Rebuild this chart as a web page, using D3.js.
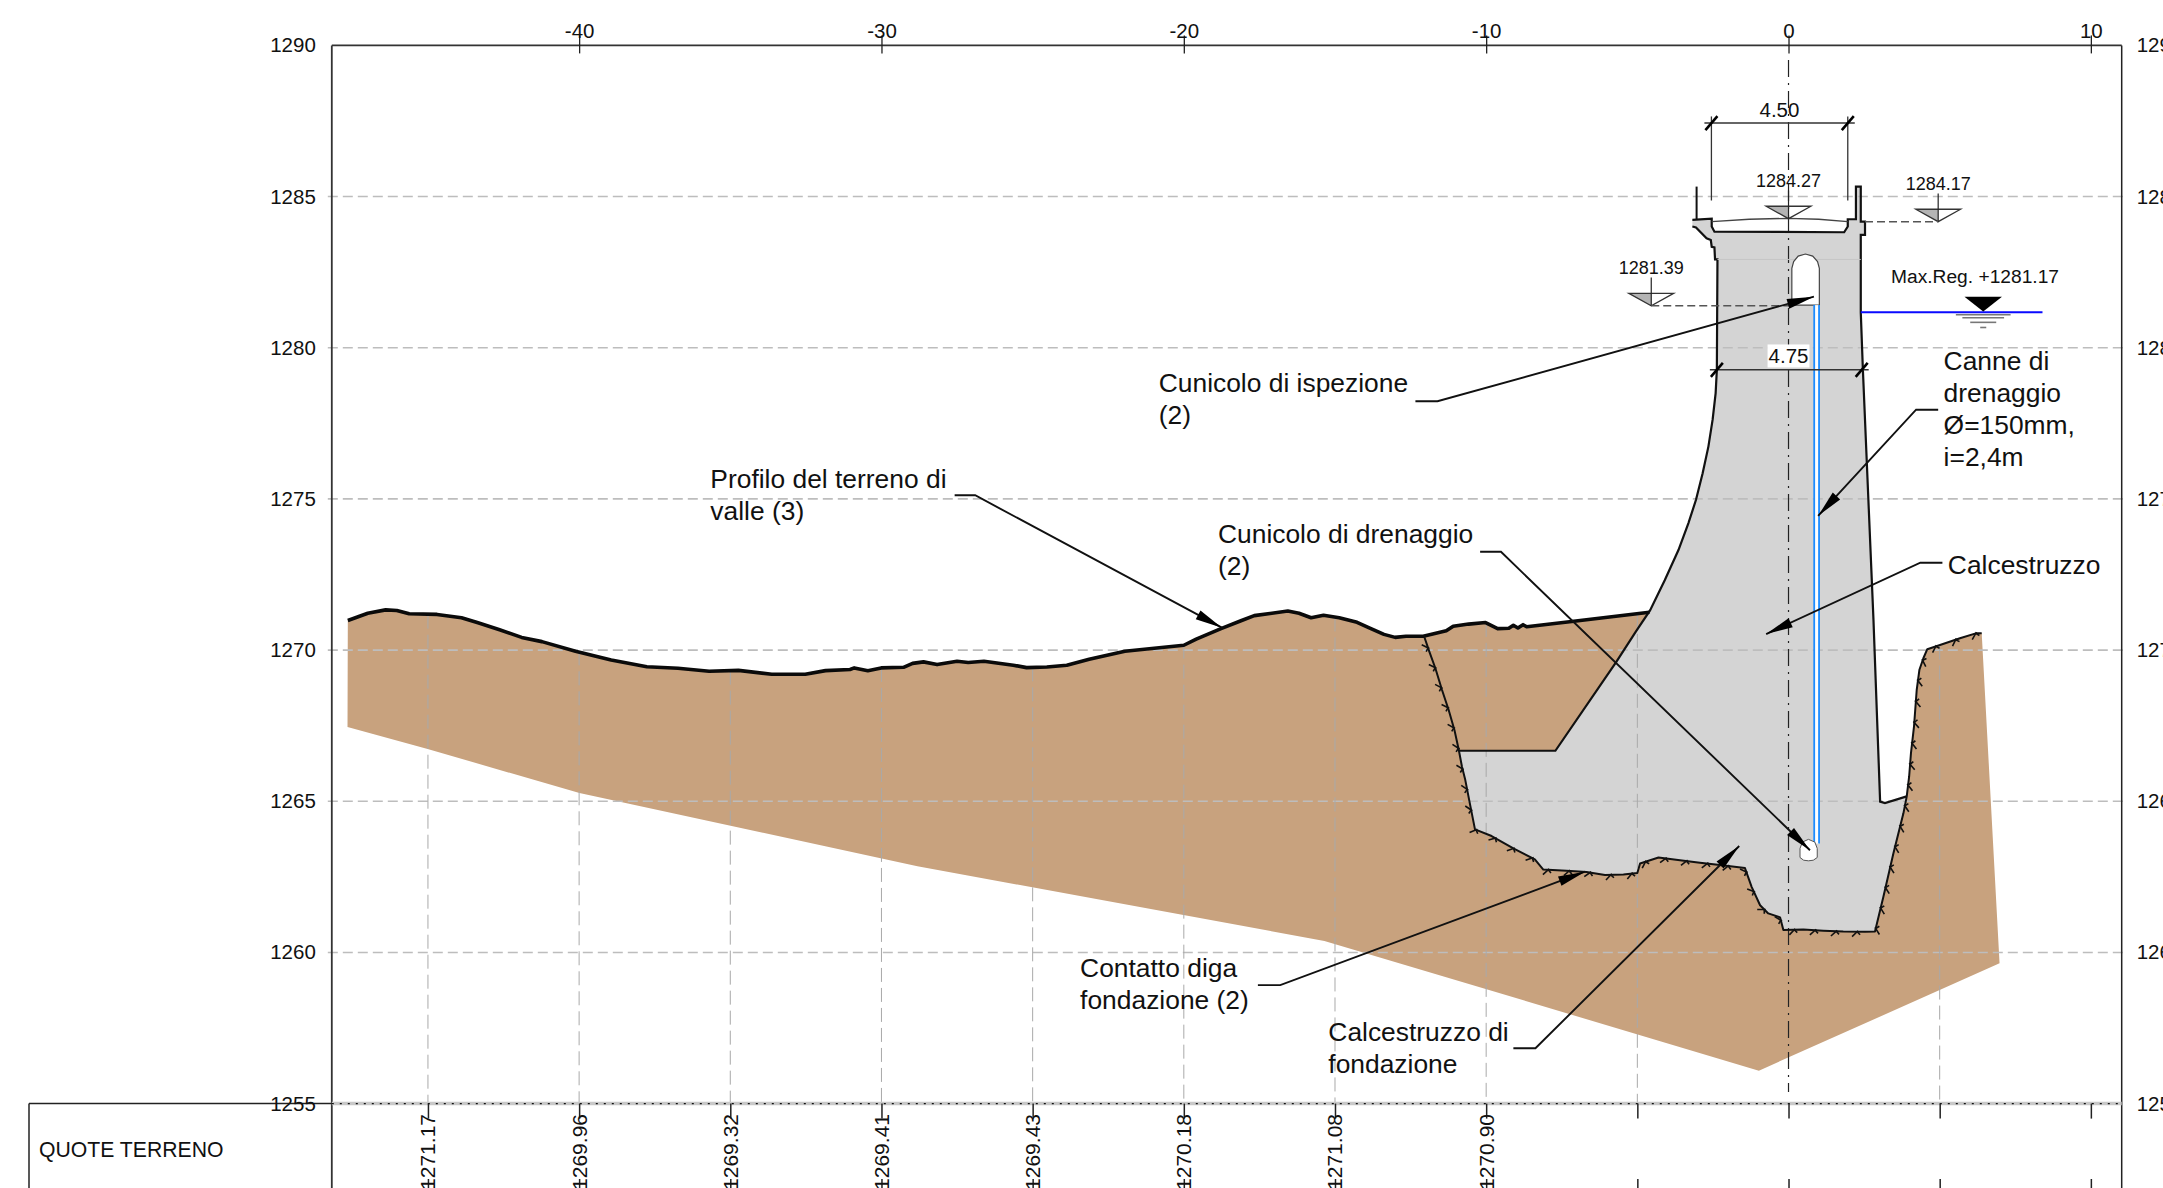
<!DOCTYPE html>
<html>
<head>
<meta charset="utf-8">
<script src="https://cdn.jsdelivr.net/npm/d3@7"></script>
<style>
  html, body { margin: 0; padding: 0; background: #fff; overflow: hidden; }
  text { font-family: "Liberation Sans", Arial, sans-serif; fill: #111; }
</style>
</head>
<body>
<div id="my_dataviz"></div>
<script>
// --------------------------------------------------------
// (1) Data read from the section (progressive m, elevation m)
// --------------------------------------------------------

const xTicks = [-40, -30, -20, -10, 0, 10];
const yTicks = [1290, 1285, 1280, 1275, 1270, 1265, 1260, 1255];
const gridX = [-45, -40, -35, -30, -25, -20, -15, -10, -5, 0, 5, 10];
const quoteX = [-45, -40, -35, -30, -25, -20, -15, -10];
const quoteTerreno = ["1271.17", "1269.96", "1269.32", "1269.41", "1269.43", "1270.18", "1271.08", "1270.90"];

// dashed verticals start from the ground, no label for these two
const extraGridX = [-5, 5];
const extraGridTop = [1271.2, 1270.15];

// ground profile, downstream
const profilo = [[-47.65,1270.98],[-46.99,1271.22],[-46.40,1271.33],[-46.03,1271.31],[-45.62,1271.20],[-44.70,1271.18],
  [-43.89,1271.07],[-43.37,1270.91],[-42.63,1270.67],[-41.90,1270.42],[-41.23,1270.28],[-40.12,1269.96],[-38.94,1269.67],
  [-37.76,1269.45],[-36.73,1269.40],[-35.70,1269.30],[-34.73,1269.33],[-33.63,1269.20],[-32.52,1269.20],[-31.85,1269.32],
  [-31.04,1269.36],[-30.90,1269.41],[-30.45,1269.32],[-30.01,1269.41],[-29.27,1269.43],[-28.97,1269.56],[-28.61,1269.61],
  [-28.16,1269.52],[-27.50,1269.63],[-27.13,1269.59],[-26.61,1269.63],[-25.64,1269.50],[-25.20,1269.42],[-24.53,1269.44],
  [-23.87,1269.50],[-23.13,1269.70],[-21.95,1269.96],[-21.06,1270.05],[-20.00,1270.16],[-19.59,1270.36],[-18.77,1270.71],
  [-18.11,1270.97],[-17.67,1271.14],[-17.15,1271.21],[-16.56,1271.29],[-16.19,1271.22],[-15.79,1271.07],[-15.38,1271.15],
  [-14.86,1271.07],[-14.27,1270.92],[-13.83,1270.72],[-13.38,1270.52],[-13.01,1270.42],[-12.65,1270.46],[-12.08,1270.46],
  [-11.32,1270.64],[-11.09,1270.79],[-10.58,1270.86],[-10.02,1270.91],[-9.62,1270.71],[-9.25,1270.72],[-9.10,1270.82],
  [-8.95,1270.73],[-8.78,1270.84],[-8.66,1270.77],[-7.03,1270.96],[-4.60,1271.25]];

// rock excavation: left wall above the concrete step
const scavoSopra = [[-12.05,1270.45],[-11.88,1269.95],[-11.68,1269.40],[-11.46,1268.68],[-11.24,1268.02],[-11.05,1267.36],[-10.90,1266.67]];

// dam/foundation contact
const contatto = [[-10.90,1266.67],[-10.80,1266.14],[-10.69,1265.70],[-10.54,1264.93],[-10.37,1264.07],[-9.82,1263.85],[-9.10,1263.44],
  [-8.39,1263.08],[-8.11,1262.74],[-7.34,1262.70],[-6.68,1262.66],[-6.07,1262.56],[-5.46,1262.58],[-5.00,1262.63],[-4.91,1262.94],
  [-4.30,1263.14],[-3.59,1263.05],[-2.93,1262.97],[-2.27,1262.89],[-1.44,1262.79],[-1.22,1262.17],[-0.94,1261.56],[-0.67,1261.29],
  [-0.28,1261.16],[-0.17,1260.74],[0.49,1260.76],[1.15,1260.72],[1.81,1260.69],[2.53,1260.68],[2.86,1260.69],[3.14,1261.85],
  [3.47,1263.28],[3.80,1264.60],[3.91,1265.16]];

// right bank, above the dam toe
const spondaDestra = [[3.91,1265.16],[3.99,1265.82],[4.05,1266.59],[4.15,1267.47],[4.24,1268.68],[4.33,1269.35],[4.46,1269.73],[4.59,1270.03],
  [5.01,1270.17],[5.67,1270.39],[6.22,1270.56],[6.39,1270.56]];

// lower edge of the brown ground
const fondoTerreno = [[6.98,1259.64],[-0.98,1256.09],[-15.35,1260.38],[-28.81,1262.85],[-39.99,1265.27],[-45.01,1266.73],[-47.66,1267.46]];

// dam outline, clockwise from the left crown
const corona = [[-3.18,1284.23],[-2.54,1284.27],[-2.54,1284.01],[-2.45,1283.84],[1.84,1283.82],[1.96,1284.01],[1.96,1284.25],[2.23,1284.25],
  [2.23,1285.33],[2.39,1285.33],[2.39,1284.17],[2.53,1284.17],[2.53,1283.73],[2.39,1283.73],[2.39,1281.17],[2.46,1279.27],[2.81,1271.0],
  [3.03,1264.99],[3.19,1264.94],[3.91,1265.16]];
const paramentoMonte = [[-10.90,1266.67],[-7.71,1266.67],[-5.69,1269.62],[-5.05,1270.61],[-4.58,1271.31],[-4.09,1272.32],[-3.64,1273.31],
  [-3.31,1274.20],[-3.06,1274.97],[-2.84,1275.85],[-2.65,1276.73],[-2.51,1277.62],[-2.41,1278.50],[-2.37,1279.27],[-2.35,1282.92],[-2.43,1282.92],[-2.45,1283.32],[-2.54,1283.34],
  [-2.57,1283.56],[-2.71,1283.62],[-3.06,1283.98],[-3.18,1284.01]];
const impalcato = [[-2.54,1284.17],[-1.3,1284.25],[0,1284.28],[1.0,1284.25],[1.96,1284.17]];
const parapetto = [[-3.04,1285.33],[-3.04,1284.25]];

// galleries
const cunicoloIspezione = [[0.11,1281.41],[0.11,1282.63],[0.17,1282.85],[0.32,1283.03],[0.56,1283.10],[0.80,1283.03],[0.96,1282.85],[1.02,1282.63],[1.02,1281.41]];
const cunicoloDrenaggio = [[0.38,1263.14],[0.38,1263.44],[0.46,1263.65],[0.66,1263.74],[0.87,1263.65],[0.95,1263.44],[0.95,1263.14],[0.82,1263.05],[0.66,1263.03],[0.50,1263.05]];

// drainage pipes
const drenaggioX = [0.85, 1.01];
const drenaggioY = [1281.41, 1263.6];

// water level
const maxReg = 1281.17;
const acquaX = [2.39, 8.40];
const acquaSegno = 6.44;
const acquaLinee = [[1281.09,0.905],[1280.99,0.69],[1280.84,0.43],[1280.67,0.10]];

// elevation markers
const quoteX_marker = [0, 4.95, -4.54];
const quoteTip = [1284.27, 1284.17, 1281.39];
const quoteLab = ["1284.27", "1284.17", "1281.39"];

// leaders: stub start, stub end, arrow tip
const richiami = [
  [[-12.34,1278.23],[-11.61,1278.23],[0.84,1281.69]],
  [[-27.58,1275.12],[-26.90,1275.12],[-18.74,1270.74]],
  [[-10.20,1273.25],[-9.51,1273.25],[0.71,1263.38]],
  [[4.95,1277.95],[4.22,1277.95],[0.98,1274.44]],
  [[5.09,1272.89],[4.36,1272.89],[-0.74,1270.53]],
  [[-17.55,1258.92],[-16.81,1258.92],[-6.73,1262.67]],
  [[-9.10,1256.83],[-8.37,1256.83],[-1.63,1263.52]]
];

const etichette = [
  {x:-20.83, y:1278.52, righe:["Cunicolo di ispezione","(2)"]},
  {x:-35.66, y:1275.37, righe:["Profilo del terreno di","valle (3)"]},
  {x:-18.87, y:1273.53, righe:["Cunicolo di drenaggio","(2)"]},
  {x:5.13, y:1279.25, righe:["Canne di","drenaggio","Ø=150mm,","i=2,4m"]},
  {x:5.27, y:1272.53, righe:["Calcestruzzo"]},
  {x:-23.43, y:1259.20, righe:["Contatto diga","fondazione (2)"]},
  {x:-15.22, y:1257.06, righe:["Calcestruzzo di","fondazione"]}
];

// --------------------------------------------------------
// (2) Scales
// --------------------------------------------------------

var svg_width = 2163
var svg_height = 1188

const x = d3.scaleLinear().domain([-48.18, 11.02]).range([331.8, 2121.7]);
const y = d3.scaleLinear().domain([1255, 1290]).range([1103.6, 45.4]);
const line = d3.line().x(d => x(d[0])).y(d => y(d[1]));

const svg = d3.select("#my_dataviz").append("svg")
    .attr("width", svg_width)
    .attr("height", svg_height)
    .style("display", "block");

// --------------------------------------------------------
// (3) Ground and dam fills
// --------------------------------------------------------

const terreno = profilo.concat([[-2,1264],[2,1262]], contatto.slice(-3), spondaDestra.slice(1), fondoTerreno);
svg.append("path").attr("d", line(terreno) + "Z").attr("fill", "#c8a27e");

const diga = corona.concat(contatto.slice(0, -1).reverse(), paramentoMonte);
svg.append("path").attr("d", line(diga) + "Z").attr("fill", "#d4d4d4");

// --------------------------------------------------------
// (4) Grid
// --------------------------------------------------------

svg.append("g").selectAll("line").data(yTicks.slice(1, -1)).join("line")
    .attr("x1", x.range()[0] - 4).attr("x2", x.range()[1] + 4)
    .attr("y1", d => y(d)).attr("y2", d => y(d))
    .attr("stroke", "#bdbdbd").attr("stroke-width", 1.6).attr("stroke-dasharray", "10,5");

const gridTop = quoteX.map((d, i) => [d, +quoteTerreno[i]]).concat(extraGridX.map((d, i) => [d, extraGridTop[i]]));
svg.append("g").selectAll("line").data(gridTop).join("line")
    .attr("x1", d => x(d[0])).attr("x2", d => x(d[0]))
    .attr("y1", d => y(d[1])).attr("y2", y(1255))
    .attr("stroke", "#a9a9a9").attr("stroke-width", 1).attr("stroke-dasharray", "14,6");

// centre line of the section
svg.append("line")
    .attr("x1", x(0)).attr("x2", x(0)).attr("y1", 60).attr("y2", 1092)
    .attr("stroke", "#222").attr("stroke-width", 1.2).attr("stroke-dasharray", "17,6,2,6");

// --------------------------------------------------------
// (5) Dam, galleries, pipes
// --------------------------------------------------------

svg.append("path").attr("d", line(corona)).attr("fill", "none").attr("stroke", "#111").attr("stroke-width", 2.2);
svg.append("path").attr("d", line(paramentoMonte)).attr("fill", "none").attr("stroke", "#111").attr("stroke-width", 2.2);
svg.append("path").attr("d", line(impalcato)).attr("fill", "none").attr("stroke", "#444").attr("stroke-width", 1.4);
svg.append("path").attr("d", line(parapetto)).attr("fill", "none").attr("stroke", "#111").attr("stroke-width", 2);
svg.append("line")
    .attr("x1", x(-2.35)).attr("x2", x(2.39)).attr("y1", y(1282.92)).attr("y2", y(1282.92))
    .attr("stroke", "#c6c6c6").attr("stroke-width", 1);

svg.append("path").attr("d", line(cunicoloIspezione) + "Z").attr("fill", "#fff").attr("stroke", "#444").attr("stroke-width", 1.2);
svg.append("rect")
    .attr("x", x(drenaggioX[0])).attr("width", x(drenaggioX[1]) - x(drenaggioX[0]))
    .attr("y", y(drenaggioY[0])).attr("height", y(drenaggioY[1]) - y(drenaggioY[0]))
    .attr("fill", "#fff");
svg.append("g").selectAll("line").data(drenaggioX).join("line")
    .attr("x1", d => x(d)).attr("x2", d => x(d))
    .attr("y1", y(drenaggioY[0])).attr("y2", y(drenaggioY[1]))
    .attr("stroke", "#1c8cff").attr("stroke-width", 1.8);
svg.append("path").attr("d", line(cunicoloDrenaggio) + "Z").attr("fill", "#fff").attr("stroke", "#555").attr("stroke-width", 1);

// --------------------------------------------------------
// (6) Ground lines with hachures on the contact
// --------------------------------------------------------

svg.append("path").attr("d", line(profilo)).attr("fill", "none")
    .attr("stroke", "#0a0a0a").attr("stroke-width", 3.6).attr("stroke-linejoin", "round");

const scavo = scavoSopra.concat(contatto.slice(1), spondaDestra.slice(1));
const scavoPath = svg.append("path").attr("d", line(scavo)).attr("fill", "none")
    .attr("stroke", "#111").attr("stroke-width", 2).attr("stroke-linejoin", "round");

const nodo = scavoPath.node();
const lung = nodo.getTotalLength();
const barbe = d3.range(12, lung, 21);
svg.append("g").selectAll("path").data(barbe).join("path")
    .attr("d", d => {
        const p = nodo.getPointAtLength(d);
        const q = nodo.getPointAtLength(d + 1);
        const tx = q.x - p.x, ty = q.y - p.y;
        const n = Math.hypot(tx, ty) || 1;
        const ux = tx / n, uy = ty / n;
        // normal into the rock, long prong back along the line, short one forward
        const nx = -uy, ny = ux;
        const long = d3.line()([[p.x + ux * 1 - nx, p.y + uy * 1 - ny], [p.x + nx * 5 - ux * 5, p.y + ny * 5 - uy * 5]]);
        const corto = d3.line()([[p.x, p.y], [p.x + nx * 3 + ux * 3, p.y + ny * 3 + uy * 3]]);
        return long + corto;
    })
    .attr("stroke", "#111").attr("stroke-width", 1.6).attr("fill", "none");

// --------------------------------------------------------
// (7) Water level and elevation markers
// --------------------------------------------------------

svg.append("line")
    .attr("x1", x(acquaX[0])).attr("x2", x(acquaX[1])).attr("y1", y(maxReg)).attr("y2", y(maxReg))
    .attr("stroke", "#0a0aff").attr("stroke-width", 2);
svg.append("path")
    .attr("d", line([[acquaSegno - 0.62, 1281.69], [acquaSegno + 0.62, 1281.69], [acquaSegno, 1281.20]]) + "Z")
    .attr("fill", "#000");
svg.append("g").selectAll("line").data(acquaLinee).join("line")
    .attr("x1", d => x(acquaSegno - d[1])).attr("x2", d => x(acquaSegno + d[1]))
    .attr("y1", d => y(d[0])).attr("y2", d => y(d[0]))
    .attr("stroke", "#777").attr("stroke-width", 1.6);
svg.append("text").attr("x", x(3.39)).attr("y", y(1282.14)).attr("font-size", 19.2).text("Max.Reg. +1281.17");

quoteLab.forEach((lab, i) => {
    const cx = quoteX_marker[i], tip = quoteTip[i];
    const g = svg.append("g");
    g.append("path").attr("d", line([[cx - 0.74, tip + 0.41], [cx, tip + 0.41], [cx, tip]]) + "Z").attr("fill", "#b4b4b4");
    g.append("path").attr("d", line([[cx - 0.74, tip + 0.41], [cx + 0.74, tip + 0.41], [cx, tip]]) + "Z")
        .attr("fill", "none").attr("stroke", "#333").attr("stroke-width", 1.3);
    g.append("line").attr("x1", x(cx)).attr("x2", x(cx)).attr("y1", y(tip)).attr("y2", y(tip + 0.93))
        .attr("stroke", "#222").attr("stroke-width", 1.2);
    g.append("text").attr("x", x(cx)).attr("y", y(tip + 1.06)).attr("text-anchor", "middle").attr("font-size", 18).text(lab);
});

// dashed references to the markers
svg.append("line").attr("x1", x(2.53)).attr("x2", x(4.95)).attr("y1", y(1284.17)).attr("y2", y(1284.17))
    .attr("stroke", "#555").attr("stroke-width", 1.5).attr("stroke-dasharray", "8,4");
svg.append("line").attr("x1", x(-4.54)).attr("x2", x(0.11)).attr("y1", y(1281.39)).attr("y2", y(1281.39))
    .attr("stroke", "#555").attr("stroke-width", 1.5).attr("stroke-dasharray", "8,4");

// --------------------------------------------------------
// (8) Dimensions
// --------------------------------------------------------

function quota(x0, x1, yy, lab, labX, labY, sfondo) {
    const g = svg.append("g");
    g.append("line").attr("x1", x(x0) - 7).attr("x2", x(x1) + 7).attr("y1", y(yy)).attr("y2", y(yy))
        .attr("stroke", "#333").attr("stroke-width", 1.5);
    [x0, x1].forEach(v => {
        g.append("line").attr("x1", x(v) - 6).attr("x2", x(v) + 6).attr("y1", y(yy) + 7).attr("y2", y(yy) - 7)
            .attr("stroke", "#000").attr("stroke-width", 2.6);
    });
    const t = g.append("text").attr("x", x(labX)).attr("y", y(labY)).attr("text-anchor", "middle")
        .attr("font-size", 20.5).text(lab);
    if (sfondo) {
        const b = t.node().getBBox();
        g.insert("rect", "text").attr("x", b.x - 1).attr("y", b.y).attr("width", b.width + 2).attr("height", b.height).attr("fill", "#fff");
    }
}
[-2.55, 1.96].forEach(v => {
    svg.append("line").attr("x1", x(v)).attr("x2", x(v)).attr("y1", y(1287.65)).attr("y2", y(1284.87))
        .attr("stroke", "#333").attr("stroke-width", 1.3);
});
quota(-2.55, 1.96, 1287.43, "4.50", -0.30, 1287.62, false);
quota(-2.37, 2.42, 1279.27, "4.75", 0, 1279.48, true);

// --------------------------------------------------------
// (9) Leaders and notes
// --------------------------------------------------------

richiami.forEach(r => {
    const pts = r.map(d => [x(d[0]), y(d[1])]);
    svg.append("path").attr("d", d3.line()(pts)).attr("fill", "none").attr("stroke", "#111").attr("stroke-width", 1.9);
    const [b, t] = [pts[1], pts[2]];
    const n = Math.hypot(t[0] - b[0], t[1] - b[1]);
    const ux = (t[0] - b[0]) / n, uy = (t[1] - b[1]) / n;
    const bx = t[0] - ux * 27, by = t[1] - uy * 27;
    svg.append("path")
        .attr("d", d3.line()([t, [bx - uy * 5, by + ux * 5], [bx + uy * 5, by - ux * 5]]) + "Z")
        .attr("fill", "#000");
});

const passo = 32;
etichette.forEach(e => {
    e.righe.forEach((r, i) => {
        svg.append("text").attr("x", x(e.x)).attr("y", y(e.y) + i * passo).attr("font-size", 26.4).text(r);
    });
});

// --------------------------------------------------------
// (10) Frame, axes and table
// --------------------------------------------------------

const frame = svg.append("g").attr("fill", "none");
frame.append("line").attr("x1", x.range()[0]).attr("x2", x.range()[1]).attr("y1", y(1290)).attr("y2", y(1290)).attr("stroke", "#333").attr("stroke-width", 1.8);
frame.append("line").attr("x1", x.range()[0]).attr("x2", x.range()[0]).attr("y1", y(1290)).attr("y2", svg_height).attr("stroke", "#333").attr("stroke-width", 1.8);
frame.append("line").attr("x1", x.range()[1]).attr("x2", x.range()[1]).attr("y1", y(1290)).attr("y2", svg_height).attr("stroke", "#222").attr("stroke-width", 1.5);

// base line: grey band with a dotted black line on top
frame.append("line").attr("x1", x.range()[0]).attr("x2", x.range()[1]).attr("y1", y(1255)).attr("y2", y(1255)).attr("stroke", "#c8c8c8").attr("stroke-width", 3.5);
frame.append("line").attr("x1", x.range()[0]).attr("x2", x.range()[1]).attr("y1", y(1255)).attr("y2", y(1255)).attr("stroke", "#111").attr("stroke-width", 1.4).attr("stroke-dasharray", "2,6");
frame.append("line").attr("x1", 29).attr("x2", x.range()[0]).attr("y1", y(1255)).attr("y2", y(1255)).attr("stroke", "#222").attr("stroke-width", 1.5);
frame.append("line").attr("x1", 29).attr("x2", 29).attr("y1", y(1255)).attr("y2", svg_height).attr("stroke", "#222").attr("stroke-width", 1.5);

function stile(g) {
    g.select(".domain").remove();
    g.selectAll("text").attr("font-size", 20.5).attr("font-family", "Liberation Sans").attr("fill", "#111");
    g.selectAll("line").attr("stroke", "#222").attr("stroke-width", 1.3);
}

svg.append("g").attr("transform", `translate(0,${y(1290)})`)
    .call(d3.axisTop(x).tickValues(xTicks).tickSize(10).tickPadding(0).tickFormat(d => String(d)))
    .call(stile)
    .call(g => g.selectAll("line").attr("y1", 8))
    .call(g => g.selectAll("text").attr("y", -7.7).attr("dy", 0));

svg.append("g").attr("transform", `translate(${x.range()[0]},0)`)
    .call(d3.axisLeft(y).tickValues(yTicks).tickSize(0).tickPadding(16).tickFormat(d => String(d)))
    .call(stile);

svg.append("g").attr("transform", `translate(${x.range()[1]},0)`)
    .call(d3.axisRight(y).tickValues(yTicks).tickSize(0).tickPadding(15).tickFormat(d => String(d)))
    .call(stile);

svg.append("g").attr("transform", `translate(0,${y(1255)})`)
    .call(d3.axisBottom(x).tickValues(gridX).tickSize(15).tickFormat(""))
    .call(stile)
    .call(g => g.selectAll("line").attr("stroke-width", 1.5));

svg.append("g").attr("transform", `translate(0,1179)`)
    .call(d3.axisBottom(x).tickValues(gridX).tickSize(10).tickFormat(""))
    .call(stile)
    .call(g => g.selectAll("line").attr("stroke-width", 1.5));

svg.append("text").attr("x", 39).attr("y", 1157).attr("font-size", 21.2).text("QUOTE TERRENO");

svg.append("g").selectAll("text").data(quoteTerreno).join("text")
    .attr("transform", (d, i) => `translate(${x(quoteX[i]) + 7.5},1114) rotate(-90)`)
    .attr("text-anchor", "end")
    .attr("font-size", 21)
    .text(d => d);
</script>
</body>
</html>
